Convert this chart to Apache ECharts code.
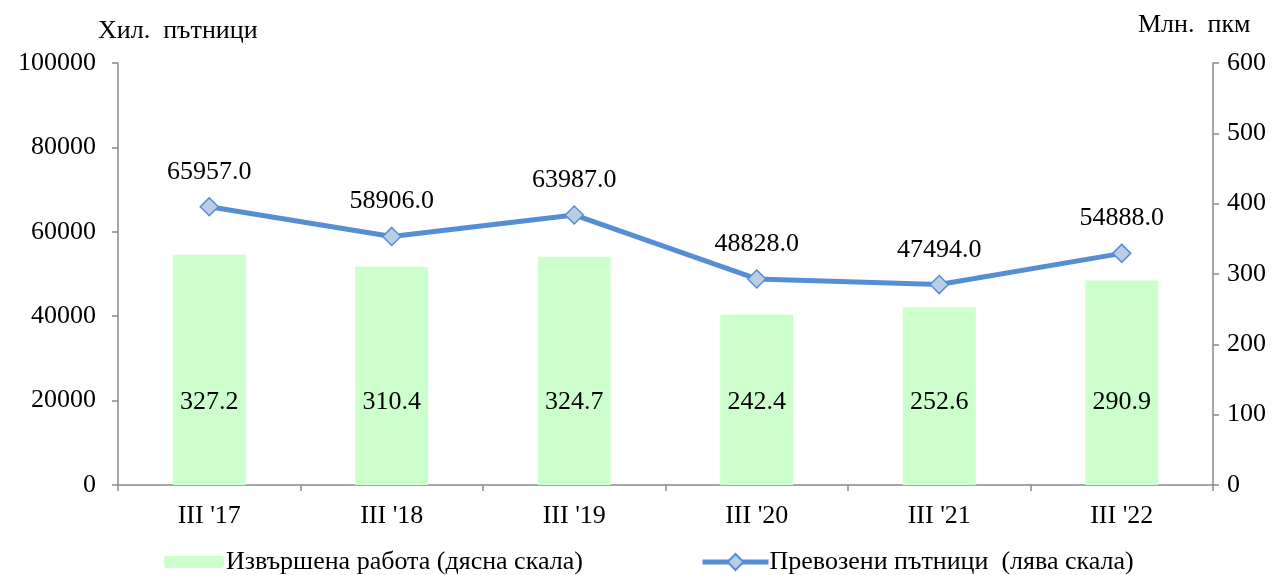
<!DOCTYPE html>
<html>
<head>
<meta charset="utf-8">
<script src="https://cdn.jsdelivr.net/npm/echarts@6/dist/echarts.min.js"></script>
<style>
  html, body { margin: 0; padding: 0; background: #fff; }
  #chart { width: 1282px; height: 575px; }
</style>
</head>
<body>
<div id="chart"></div>
<script>
const categories = ["III '17", "III '18", "III '19", "III '20", "III '21", "III '22"];
const workDone = [327.2, 310.4, 324.7, 242.4, 252.6, 290.9];
const passengers = [65957.0, 58906.0, 63987.0, 48828.0, 47494.0, 54888.0];

const FONT = '"Liberation Serif", "Times New Roman", serif';
const FS = 26;
const AXIS_COLOR = "#898989";

let chartDom = document.getElementById("chart");
let myChart = echarts.init(chartDom);

let option = {
  animation: false,
  textStyle: { fontFamily: FONT, color: "#000" },
  title: [
    {
      text: "Хил.  пътници",
      left: 93,
      top: 13,
      textStyle: { fontFamily: FONT, fontSize: FS, fontWeight: "normal", color: "#000" },
    },
    {
      text: "Млн.  пкм",
      left: 1133,
      top: 7,
      textStyle: { fontFamily: FONT, fontSize: FS, fontWeight: "normal", color: "#000" },
    },
  ],
  legend: [
    {
      data: ["Извършена работа (дясна скала)"],
      left: 159,
      top: 544,
      itemWidth: 60,
      itemHeight: 12,
      textStyle: { fontFamily: FONT, fontSize: FS, color: "#000", padding: [0, 0, 0, -3] },
    },
    {
      data: ["Превозени пътници  (лява скала)"],
      left: 695,
      top: 544,
      itemWidth: 66,
      itemHeight: 20,
      lineStyle: { width: 5 },
      textStyle: { fontFamily: FONT, fontSize: FS, color: "#000", padding: [0, 0, 0, -4] },
    },
  ],
  grid: { left: 118, right: 69, top: 63, bottom: 90 },
  xAxis: {
    type: "category",
    data: categories,
    boundaryGap: true,
    axisLine: { lineStyle: { color: AXIS_COLOR, width: 1.5 } },
    axisTick: { show: true, alignWithLabel: false, length: 6, lineStyle: { color: AXIS_COLOR, width: 1.5 } },
    axisLabel: { fontFamily: FONT, fontSize: FS, color: "#000", margin: 18 },
  },
  yAxis: [
    {
      type: "value",
      min: 0,
      max: 100000,
      interval: 20000,
      axisLine: { show: true, lineStyle: { color: AXIS_COLOR, width: 1.5 } },
      axisTick: { show: true, length: 6, lineStyle: { color: AXIS_COLOR, width: 1.5 } },
      splitLine: { show: false },
      axisLabel: { fontFamily: FONT, fontSize: FS, color: "#000", margin: 22, formatter: (v) => String(v) },
    },
    {
      type: "value",
      min: 0,
      max: 600,
      interval: 100,
      position: "right",
      axisLine: { show: true, lineStyle: { color: AXIS_COLOR, width: 1.5 } },
      axisTick: { show: true, length: 6, lineStyle: { color: AXIS_COLOR, width: 1.5 } },
      splitLine: { show: false },
      axisLabel: { fontFamily: FONT, fontSize: FS, color: "#000", margin: 14 },
    },
  ],
  series: [
    {
      name: "Извършена работа (дясна скала)",
      type: "bar",
      yAxisIndex: 1,
      data: workDone,
      barWidth: "40%",
      itemStyle: { color: "#ccffcc" },
      label: {
        show: true,
        position: "insideBottom",
        distance: 70,
        fontFamily: FONT,
        fontSize: FS,
        color: "#000",
        formatter: (p) => p.value.toFixed(1),
      },
    },
    {
      name: "Превозени пътници  (лява скала)",
      type: "line",
      yAxisIndex: 0,
      data: passengers,
      symbol: "diamond",
      symbolSize: 18,
      lineStyle: { color: "#558ed5", width: 5 },
      itemStyle: { color: "#b9cde5", borderColor: "#558ed5", borderWidth: 1.5 },
      label: {
        show: true,
        position: "top",
        distance: 12,
        fontFamily: FONT,
        fontSize: FS,
        color: "#000",
        formatter: (p) => p.value.toFixed(1),
      },
      z: 3,
    },
  ],
};

option && myChart.setOption(option);
</script>
</body>
</html>
